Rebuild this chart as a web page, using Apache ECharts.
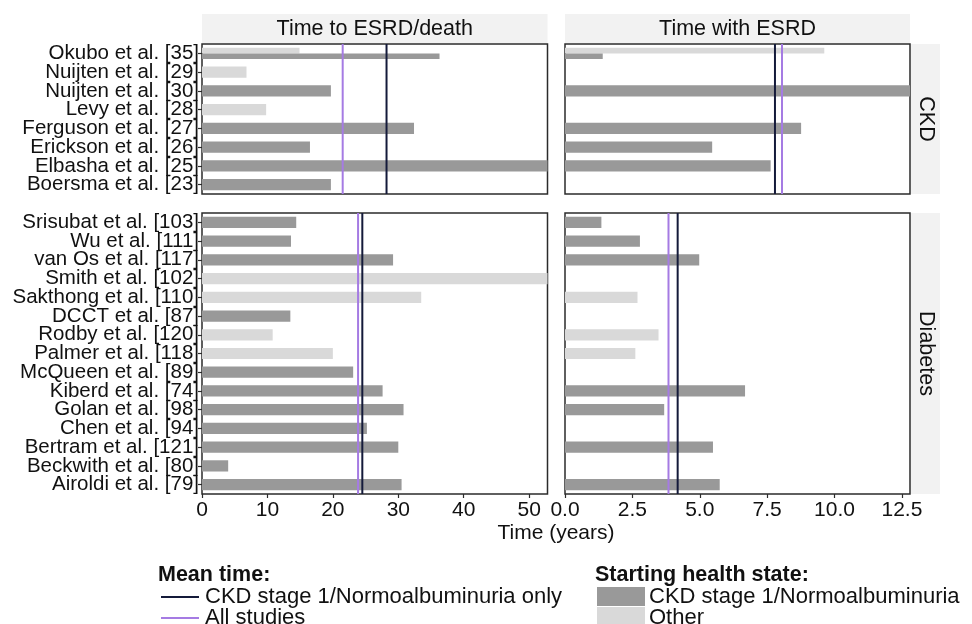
<!DOCTYPE html>
<html><head><meta charset="utf-8">
<script src="https://cdn.jsdelivr.net/npm/echarts@6/dist/echarts.min.js"></script>
<style>html,body{margin:0;padding:0;background:#fff}#c{width:972px;height:624px}</style>
</head><body><div id="c"></div>
<script>
// ---------- data ----------
const ckdStudies = ['Okubo et al. [35]','Nuijten et al. [29]','Nuijten et al. [30]','Levy et al. [28]','Ferguson et al. [27]','Erickson et al. [26]','Elbasha et al. [25]','Boersma et al. [23]'];
const ckdDeathDark  = [36.3, null, 19.7, null, 32.4, 16.5, 52.8, 19.7];
const ckdDeathLight = [14.9, 6.8, null, 9.8, null, null, null, null];
const ckdEsrdDark   = [1.4, null, 12.8, null, 8.76, 5.46, 7.63, null];
const ckdEsrdLight  = [9.62, null, null, null, null, null, null, null];

const diabStudies = ['Srisubat et al. [103]','Wu et al. [111]','van Os et al. [117]','Smith et al. [102]','Sakthong et al. [110]','DCCT et al. [87]','Rodby et al. [120]','Palmer et al. [118]','McQueen et al. [89]','Kiberd et al. [74]','Golan et al. [98]','Chen et al. [94]','Bertram et al. [121]','Beckwith et al. [80]','Airoldi et al. [79]'];
const diabDeathDark  = [14.4, 13.6, 29.2, null, null, 13.5, null, null, 23.1, 27.6, 30.8, 25.2, 30.0, 4.0, 30.5];
const diabDeathLight = [null, null, null, 52.8, 33.5, null, 10.8, 20.0, null, null, null, null, null, null, null];
const diabEsrdDark   = [1.35, 2.78, 4.98, null, null, null, null, null, null, 6.68, 3.68, null, 5.49, null, 5.74];
const diabEsrdLight  = [null, null, null, null, 2.69, null, 3.47, 2.61, null, null, null, null, null, null, null];

// mean times: [CKD death, CKD ESRD, Diabetes death, Diabetes ESRD]
const meanCkdStage1Only = [28.2, 7.79, 24.5, 4.18];
const meanAllStudies    = [21.5, 8.05, 23.85, 3.84];

const deathMax = 52.8, esrdMax = 12.8;
const deathTicks = [0, 10, 20, 30, 40, 50];
const esrdTicks = [0, 2.5, 5, 7.5, 10, 12.5];

const facetCols = ['Time to ESRD/death', 'Time with ESRD'];
const facetRows = ['CKD', 'Diabetes'];

// ---------- styles ----------
const FONT = '"Liberation Sans", Arial, Helvetica, sans-serif';
const DARK = '#999999', LIGHT = '#d9d9d9', NAVY = '#141a3a', PURPLE = '#a57be3';
const TXT = '#111111', BORDER = '#2b2b2b', STRIP = '#f2f2f2';

const G = [
  {left: 202, top: 44, width: 345.5, height: 150},
  {left: 565, top: 44, width: 345, height: 150},
  {left: 202, top: 213, width: 345.5, height: 281},
  {left: 565, top: 213, width: 345, height: 281}
];

const panels = [
  {cats: ckdStudies,  dark: ckdDeathDark,  light: ckdDeathLight,  max: deathMax, ticks: deathTicks, m: 0},
  {cats: ckdStudies,  dark: ckdEsrdDark,   light: ckdEsrdLight,   max: esrdMax,  ticks: esrdTicks,  m: 1},
  {cats: diabStudies, dark: diabDeathDark, light: diabDeathLight, max: deathMax, ticks: deathTicks, m: 2},
  {cats: diabStudies, dark: diabEsrdDark,  light: diabEsrdLight,  max: esrdMax,  ticks: esrdTicks,  m: 3}
];

function barData(dark, light) {
  const out = [];
  dark.forEach((d, i) => {
    const l = light[i];
    const both = d != null && l != null;
    if (l != null) out.push([l, i, 1, both ? -1 : 0]);
    if (d != null) out.push([d, i, 0, both ? 1 : 0]);
  });
  return out;
}
function renderBar(params, api) {
  const v = api.value(0), c = api.value(1), kind = api.value(2), dodge = api.value(3);
  const p0 = api.coord([0, c]), p1 = api.coord([v, c]);
  const band = api.size([0, 1])[1];
  const h = band * 0.6;
  let y, hh;
  if (dodge === 0) { y = p0[1] - h / 2; hh = h; }
  else if (dodge < 0) { y = p0[1] - h / 2; hh = h / 2; }
  else { y = p0[1]; hh = h / 2; }
  return {type: 'rect', shape: {x: p0[0], y: y, width: p1[0] - p0[0], height: hh},
          style: {fill: kind ? LIGHT : DARK}};
}
function lineRenderer(color) {
  return function (params, api) {
    const x = api.coord([api.value(0), 0])[0];
    const cs = params.coordSys;
    return {type: 'line', shape: {x1: x, y1: cs.y, x2: x, y2: cs.y + cs.height},
            style: {stroke: color, lineWidth: 2}};
  };
}

const grids = G.map(g => Object.assign({show: true, borderColor: BORDER, borderWidth: 1.5, backgroundColor: '#fff', containLabel: false}, g));
const xAxes = panels.map((p, i) => {
  const bottom = i >= 2;
  return {
    gridIndex: i, type: 'value', min: 0, max: p.max,
    axisLine: {show: false}, splitLine: {show: false},
    axisTick: {show: bottom, length: 4, lineStyle: {color: BORDER, width: 1.2}, customValues: p.ticks},
    axisLabel: {show: bottom, customValues: p.ticks, fontSize: 21, color: TXT, fontFamily: FONT, margin: 6,
      formatter: v => (p.max === esrdMax ? Number(v).toFixed(1) : String(v))}
  };
});
const yAxes = panels.map((p, i) => {
  const left = i % 2 === 0;
  return {
    gridIndex: i, type: 'category', data: p.cats, inverse: true,
    axisLine: {show: false}, splitLine: {show: false},
    axisTick: {show: left, alignWithLabel: true, length: 4, lineStyle: {color: BORDER, width: 1.2}},
    axisLabel: {show: left, interval: 0, fontSize: 20.5, color: TXT, fontFamily: FONT, margin: 3}
  };
});

const series = [];
panels.forEach((p, i) => {
  series.push({type: 'custom', xAxisIndex: i, yAxisIndex: i, renderItem: renderBar,
    encode: {x: 0, y: 1}, data: barData(p.dark, p.light), silent: true, z: 2});
  series.push({type: 'custom', xAxisIndex: i, yAxisIndex: i, renderItem: lineRenderer(PURPLE),
    encode: {x: 0, y: 1}, data: [[meanAllStudies[p.m], 0]], silent: true, z: 3});
  series.push({type: 'custom', xAxisIndex: i, yAxisIndex: i, renderItem: lineRenderer(NAVY),
    encode: {x: 0, y: 1}, data: [[meanCkdStage1Only[p.m], 0]], silent: true, z: 4});
});

function txt(text, x, y, size, opts) {
  opts = opts || {};
  return Object.assign({type: 'text', x: x, y: y, rotation: opts.rotation || 0, z: 10, silent: true,
    style: {text: text, x: 0, y: 0, fill: TXT, align: opts.align || 'left', textAlign: opts.align || 'left',
      verticalAlign: 'middle', textVerticalAlign: 'middle',
      font: (opts.bold ? 'bold ' : '') + size + 'px ' + FONT}});
}

const graphics = [
  {type: 'rect', shape: {x: 202, y: 14, width: 345.5, height: 29}, style: {fill: STRIP}, silent: true},
  {type: 'rect', shape: {x: 565, y: 14, width: 345, height: 29}, style: {fill: STRIP}, silent: true},
  {type: 'rect', shape: {x: 911, y: 44, width: 29, height: 150}, style: {fill: STRIP}, silent: true},
  {type: 'rect', shape: {x: 911, y: 213, width: 29, height: 281}, style: {fill: STRIP}, silent: true},
  txt(facetCols[0], 374.75, 29, 21.5, {align: 'center'}),
  txt(facetCols[1], 737.5, 29, 21.5, {align: 'center'}),
  txt(facetRows[0], 926, 119, 21.5, {align: 'center', rotation: -Math.PI / 2}),
  txt(facetRows[1], 926, 353.5, 21.5, {align: 'center', rotation: -Math.PI / 2}),
  txt('Time (years)', 556, 533, 21, {align: 'center'}),
  // legend
  txt('Mean time:', 158, 575, 21.5, {bold: true}),
  {type: 'line', shape: {x1: 161, y1: 597, x2: 199, y2: 597}, style: {stroke: NAVY, lineWidth: 2}, silent: true},
  txt('CKD stage 1/Normoalbuminuria only', 205, 597, 22),
  {type: 'line', shape: {x1: 161, y1: 618, x2: 199, y2: 618}, style: {stroke: PURPLE, lineWidth: 2}, silent: true},
  txt('All studies', 205, 618, 22),
  txt('Starting health state:', 595, 575, 21.5, {bold: true}),
  {type: 'rect', shape: {x: 597, y: 587, width: 48, height: 19}, style: {fill: DARK}, silent: true},
  {type: 'rect', shape: {x: 597, y: 607, width: 48, height: 19}, style: {fill: LIGHT}, silent: true},
  txt('CKD stage 1/Normoalbuminuria', 649, 597, 22),
  txt('Other', 649, 618, 22)
];

const chart = echarts.init(document.getElementById('c'), null, {renderer: 'canvas'});
chart.setOption({
  animation: false,
  backgroundColor: '#ffffff',
  textStyle: {fontFamily: FONT},
  grid: grids, xAxis: xAxes, yAxis: yAxes, series: series,
  graphic: {elements: graphics}
});
</script>
</body></html>
